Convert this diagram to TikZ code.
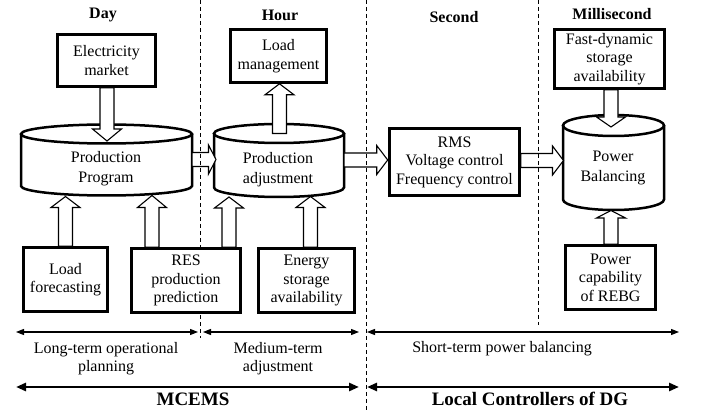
\documentclass[tikz,border=0pt]{standalone}
\usepackage{fontspec}
\setmainfont{Liberation Serif}
\newfontfamily\timesfam{Liberation Serif}
\usetikzlibrary{calc,arrows.meta}

% hollow block arrow: #1 head length (pt), #2 start coordinate, #3 tip coordinate
\newcommand\blockarrow[3]{%
  \coordinate (bh) at ($(#3)!#1pt!(#2)$);
  \draw[blockarr] ($(#2)!7pt!90:(#3)$) -- ($(bh)!7pt!-90:(#2)$)
    -- ($(bh)!14.5pt!-90:(#2)$) -- (#3) -- ($(bh)!14.5pt!90:(#2)$)
    -- ($(bh)!7pt!90:(#2)$) -- ($(#2)!7pt!-90:(#3)$) -- cycle;
}
% cylinder outline around a node whose box spans from the top-ellipse centre to the bottom edge
\newcommand\cylout[3]{%
  \draw[cylline] (#1.north west) -- ($(#1.south west)+(0,-#3)$)
    arc[start angle=180,end angle=360,x radius=#2pt,y radius=#3pt] -- (#1.north east);
  \draw[cylline] (#1.north) ellipse[x radius=#2pt,y radius=#3pt];
}

\tikzset{
  txt/.style={font=\timesfam\fontsize{16}{18.5}\selectfont, align=center, inner sep=0pt},
  cyltxt/.style={font=\timesfam\fontsize{16}{20}\selectfont, align=center, inner sep=0pt},
  box/.style={txt, draw, fill=white, line width=2.6pt},
  cyl/.style={inner sep=0pt, outer sep=0pt},
  cylline/.style={line width=2.5pt},
  blockarr/.style={draw, fill=white, line width=1.1pt, line join=miter},
  sep/.style={dash pattern=on 4pt off 3pt, line width=0.9pt},
  title/.style={font=\timesfam\bfseries\fontsize{16}{19}\selectfont, inner sep=0pt, anchor=base},
  bigtitle/.style={font=\timesfam\bfseries\fontsize{19}{22}\selectfont, inner sep=0pt, anchor=base},
  span/.style={line width=1.2pt, {Triangle[length=8pt,width=6pt]}-{Triangle[length=8pt,width=6pt]}},
  bigspan/.style={line width=2.6pt, {Triangle[length=10pt,width=8pt]}-{Triangle[length=10pt,width=8pt]}},
}

\begin{document}
\begin{tikzpicture}[x=1pt,y=-1pt]
\path[use as bounding box] (0,0) rectangle (710,411);

% column titles
\node[title] (tday) at (103,18.5) {Day};
\node[title] (thour) at (280,20.5) {Hour};
\node[title] (tsec) at (454,22.5) {Second};
\node[title] (tms) at (612,19.3) {Millisecond};

% cylinders
\node[cyl, minimum width=171pt, minimum height=61.5pt] (pp) at (106.5,164.75) {};
\node[cyl, minimum width=130pt, minimum height=63.5pt] (pa) at (279,165.25) {};
\node[cyl, minimum width=101pt, minimum height=84.5pt] (pb) at (613.5,167.75) {};
\cylout{pp}{85.5}{9.5}
\cylout{pa}{65}{9.5}
\cylout{pb}{50.5}{10.5}
\node[cyltxt] (ppt) at (106,169) {Production\\Program};
\node[cyltxt] (pat) at (278,169.5) {Production\\adjustment};
\node[cyltxt] (pbt) at (613,167.5) {Power\\Balancing};

% box footprints (their outlines and texts are drawn later, over the arrows)
\path (106.5,60.5) node[box, minimum width=98pt, minimum height=52pt, draw=none, fill=none] (em) {\phantom{x}};
\path (278.5,56) node[box, minimum width=96pt, minimum height=53pt, draw=none, fill=none] (lm) {\phantom{x}};
\path (609.5,59) node[box, minimum width=110pt, minimum height=59pt, draw=none, fill=none] (fd) {\phantom{x}};
\path (454.5,162) node[box, minimum width=130pt, minimum height=67pt, draw=none, fill=none] (rms) {\phantom{x}};
\path (65.5,279.5) node[box, minimum width=84pt, minimum height=64pt, draw=none, fill=none] (lf) {\phantom{x}};
\path (186,280.5) node[box, minimum width=109pt, minimum height=64pt, draw=none, fill=none] (res) {\phantom{x}};
\path (306.5,280.5) node[box, minimum width=96pt, minimum height=64pt, draw=none, fill=none] (es) {\phantom{x}};
\path (610.5,277.5) node[box, minimum width=90pt, minimum height=64pt, draw=none, fill=none] (pc) {\phantom{x}};

% arrow end points
\coordinate (a1s) at ($(em.south)+(0.5,0)$);
\coordinate (a1t) at ($(pp.north)+(0.5,7)$);
\coordinate (a2s) at ($(pa.north -| lm.south)+(1,0)$);
\coordinate (a2t) at ($(lm.south)+(1,0)$);
\coordinate (a3s) at ($(pp.east)+(0,-5.25)$);
\coordinate (a3t) at ($(pp.east -| pa.west)+(2,-5.25)$);
\coordinate (a4s) at ($(pa.east |- rms.west)+(0,-2)$);
\coordinate (a4t) at ($(rms.west)+(-0.5,-2)$);
\coordinate (a5s) at ($(rms.east)+(0,-1.5)$);
\coordinate (a5t) at ($(rms.east -| pb.west)+(0.5,-1.5)$);
\coordinate (a6s) at ($(fd.south)+(1.5,0)$);
\coordinate (a6t) at ($(fd.south |- pb.north)+(1.5,1.5)$);
\coordinate (a7s) at ($(pc.north)+(0.5,0)$);
\coordinate (a7t) at ($(pc.north |- pb.south)+(0.5,0.5)$);
\coordinate (a8s) at (lf.north);
\coordinate (a8t) at ($(lf.north |- pp.south)+(0,1)$);
\coordinate (a9s) at ($(res.north)+(-34,0)$);
\coordinate (a9t) at ($(a9s |- pp.south)+(0,0)$);
\coordinate (a10s) at ($(res.north)+(43,0)$);
\coordinate (a10t) at ($(a10s |- pa.south)+(0,0)$);
\coordinate (a11s) at ($(es.north)+(4,0)$);
\coordinate (a11t) at ($(a11s |- pa.south)+(0,-0.5)$);

% block arrows
\blockarrow{12}{a1s}{a1t}
\blockarrow{11}{a2s}{a2t}
\blockarrow{7.5}{a3s}{a3t}
\blockarrow{11}{a4s}{a4t}
\blockarrow{11}{a5s}{a5t}
\blockarrow{10}{a6s}{a6t}
\blockarrow{7.5}{a7s}{a7t}
\blockarrow{11}{a8s}{a8t}
\blockarrow{12}{a9s}{a9t}
\blockarrow{11}{a10s}{a10t}
\blockarrow{11}{a11s}{a11t}

% time-scale separators
\coordinate (d1a) at (200,0);   \coordinate (d1b) at (200,338);
\coordinate (d2a) at (366,0);   \coordinate (d2b) at (366,411);
\coordinate (d3a) at (538,0);   \coordinate (d3b) at (538,325);
\draw[sep] (d1a) -- (d1b);
\draw[sep] (d2a) -- (d2b);
\draw[sep] (d3a) -- (d3b);

% boxes
\node[box, minimum width=98pt, minimum height=52pt] at (em) {Electricity\\market};
\node[box, minimum width=96pt, minimum height=53pt] at (lm) {Load\\management};
\node[box, minimum width=110pt, minimum height=59pt] at (fd) {Fast-dynamic\\storage\\availability};
\node[box, minimum width=130pt, minimum height=67pt] at (rms) {RMS\\Voltage control\\Frequency control};
\node[box, minimum width=84pt, minimum height=64pt] at (lf) {Load\\forecasting};
\node[box, minimum width=109pt, minimum height=64pt] at (res) {RES\\production\\prediction};
\node[box, minimum width=96pt, minimum height=64pt] at (es) {Energy\\storage\\availability};
\node[box, minimum width=90pt, minimum height=64pt] at (pc) {Power\\capability\\of REBG};

% time horizons
\coordinate (h1a) at (16,332);  \coordinate (h1b) at (198,332);
\coordinate (h2a) at (203,332); \coordinate (h2b) at (359,332);
\coordinate (h3a) at (367,332); \coordinate (h3b) at (679,332);
\draw[span] (h1a) -- (h1b);
\draw[span] (h2a) -- (h2b);
\draw[span] (h3a) -- (h3b);
\node[txt] (lt) at (106,358.5) {Long-term operational\\planning};
\node[txt] (mt) at (278,358.5) {Medium-term\\adjustment};
\node[txt, anchor=base] (st) at (502,353) {Short-term power balancing};

% control levels
\coordinate (c1a) at (16,387);  \coordinate (c1b) at (359,387);
\coordinate (c2a) at (367,387); \coordinate (c2b) at (679,387);
\draw[bigspan] (c1a) -- (c1b);
\draw[bigspan] (c2a) -- (c2b);
\node[bigtitle] (mcems) at (193,406) {MCEMS};
\node[bigtitle] (lcdg) at (530,406) {Local Controllers of DG};
\end{tikzpicture}
\end{document}
